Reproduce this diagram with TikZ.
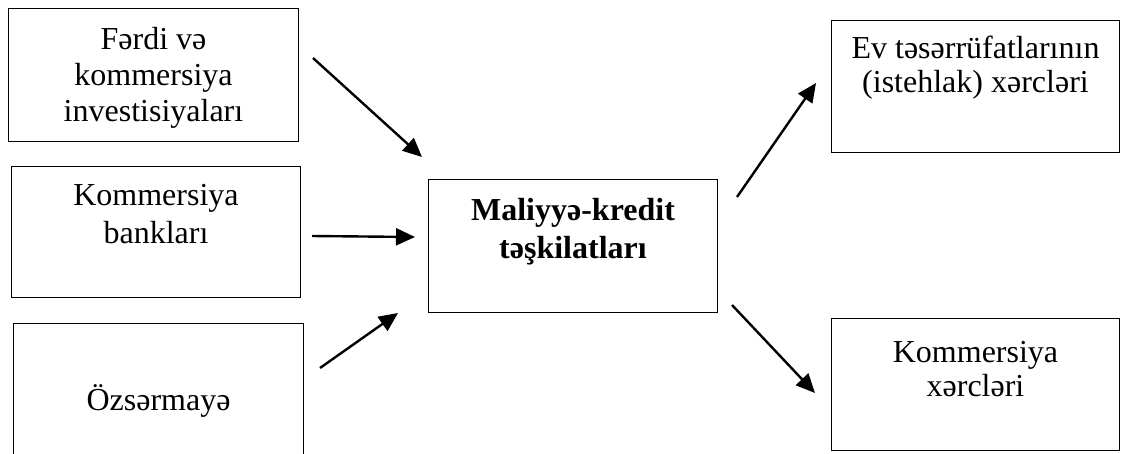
\documentclass[tikz,border=0pt]{standalone}
\usepackage{fontspec}
\setmainfont{Liberation Serif}
\usetikzlibrary{arrows.meta}
\newcommand\topstrut{\rule{0pt}{25pt}}
\begin{document}
\begin{tikzpicture}[x=1pt,y=-1pt,
  box/.style={draw=black,line width=1pt,rectangle,inner sep=0pt,anchor=north west},
  lbl/.style={anchor=north,inner sep=0pt,align=center,font=\fontsize{32}{36}\selectfont},
  flow/.style={line width=2.4pt,-{Triangle[length=19pt,width=17pt]}}]
\useasboundingbox (0,0) rectangle (1121,453);
% boxes
\node[box,minimum width=290pt,minimum height=133pt] (fa) at (8,8) {};
\node[box,minimum width=289pt,minimum height=131pt] (kb) at (11,166) {};
\node[box,minimum width=290pt,minimum height=140pt] (oz) at (13,323) {};
\node[box,minimum width=289pt,minimum height=133pt] (mk) at (428,179) {};
\node[box,minimum width=288pt,minimum height=132pt] (ev) at (831,20) {};
\node[box,minimum width=288pt,minimum height=132pt] (kx) at (831,318) {};
% labels (first baseline = node top + 25pt)
\node[lbl] (tfa) at ([yshift=-16pt]fa.north) {\topstrut Fərdi və\\kommersiya\\investisiyaları};
\node[lbl,font=\fontsize{32}{38}\selectfont] (tkb) at ([yshift=-14pt]kb.north) {\topstrut Kommersiya\\bankları};
\node[lbl] (toz) at ([yshift=-61pt]oz.north) {\topstrut Özsərmayə};
\node[lbl,font=\fontsize{32}{38}\selectfont\bfseries] (tmk) at ([yshift=-16pt]mk.north) {\topstrut Maliyyə-kredit\\təşkilatları};
\node[lbl,font=\fontsize{32}{34}\selectfont] (tev) at ([yshift=-13pt]ev.north) {\topstrut Ev təsərrüfatlarının\\(istehlak) xərcləri};
\node[lbl,font=\fontsize{32}{34}\selectfont] (tkx) at ([yshift=-19pt]kx.north) {\topstrut Kommersiya\\xərcləri};
% arrow ends
\coordinate (a1s) at (313,58);  \coordinate (a1e) at (422,157);
\coordinate (a2s) at (312,236); \coordinate (a2e) at (415,237);
\coordinate (a3s) at (320,368); \coordinate (a3e) at (398,313);
\coordinate (a4s) at (737,197); \coordinate (a4e) at (816,83);
\coordinate (a5s) at (732,305); \coordinate (a5e) at (815,393);
\draw[flow] (a1s) -- (a1e);
\draw[flow] (a2s) -- (a2e);
\draw[flow] (a3s) -- (a3e);
\draw[flow] (a4s) -- (a4e);
\draw[flow] (a5s) -- (a5e);
\end{tikzpicture}
\end{document}
